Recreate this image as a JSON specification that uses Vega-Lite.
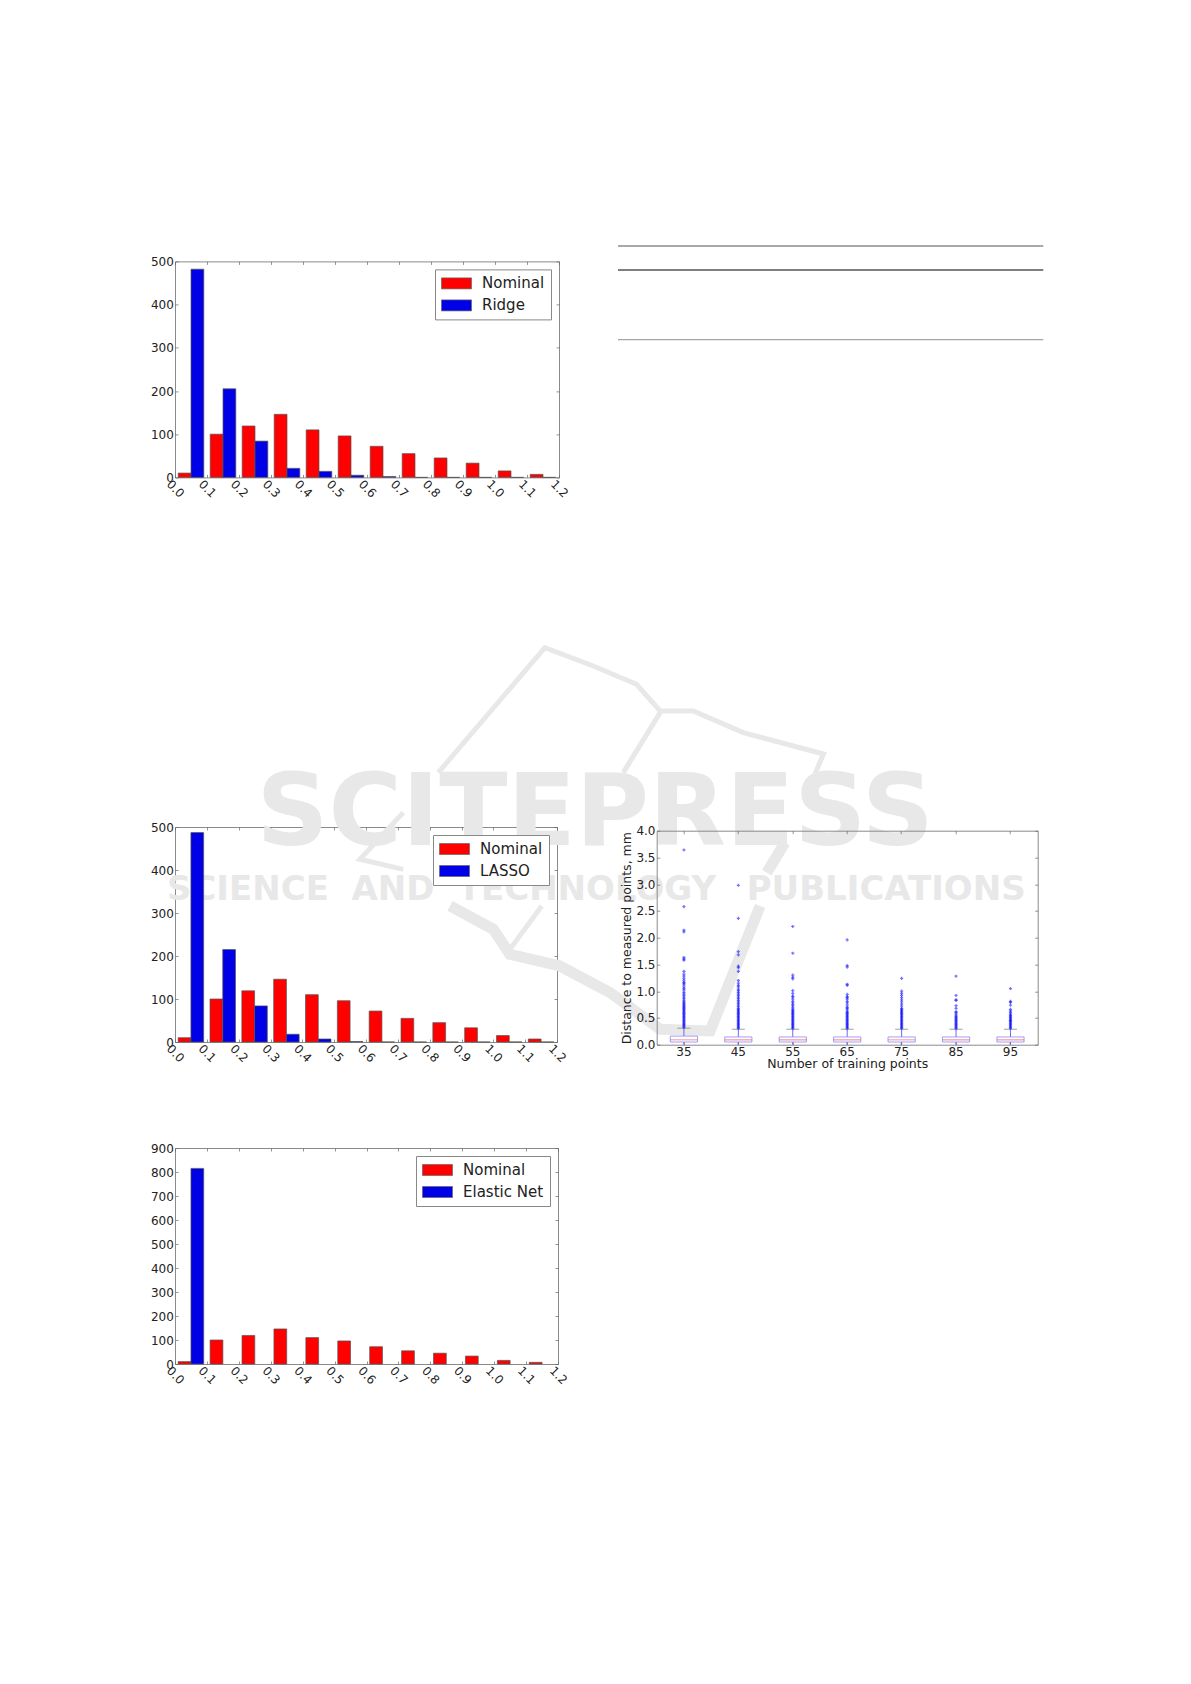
{"$schema":"https://vega.github.io/schema/vega-lite/v6.json",
"padding":{"left":149,"top":245,"right":0,"bottom":0},
"background":"white",
"config":{"view":{"stroke":"#8a8a8a","strokeWidth":1},"font":"DejaVu Sans",
"axis":{"domain":false,"grid":false,"tickSize":-3,"tickColor":"#666","tickWidth":0.7,"labelColor":"#222","labelFont":"DejaVu Sans","labelFontSize":12,"labelOverlap":false,"labelBound":false,"labelFlush":false,"title":null,"titleFont":"DejaVu Sans","titleFontWeight":"normal","titleColor":"#222"},
"legend":{"orient":"top-right","offset":8,"padding":6,"rowPadding":6,"labelOffset":25,"symbolSize":225,"symbolType":"M-1,-0.734H3V0.734H-1Z","symbolStrokeColor":"#666","symbolStrokeWidth":0.7,"labelFont":"DejaVu Sans","labelFontSize":15,"labelColor":"#222","strokeColor":"#888","fillColor":"white","title":null,"labelLimit":300}},
"datasets":{
"watermark":[{"t":"SCITEPRESS","x":1.32,"y":527,"k":"big"},{"t":"SCIENCE","x":0.229,"y":353,"k":"small"},{"t":"AND","x":0.685,"y":353,"k":"small"},{"t":"TECHNOLOGY","x":1.294,"y":353,"k":"small"},{"t":"PUBLICATIONS","x":2.234,"y":353,"k":"small"}],
"logoThin":[
{"part":"a","o":1,"x":0.827,"y":626.5},{"part":"a","o":2,"x":1.162,"y":917.2},{"part":"a","o":3,"x":1.314,"y":874.5},{"part":"a","o":4,"x":1.45,"y":831.9},{"part":"a","o":5,"x":1.524,"y":769.9},{"part":"a","o":6,"x":1.628,"y":769.9},{"part":"a","o":7,"x":1.785,"y":719.5},{"part":"a","o":8,"x":2.037,"y":669.8},{"part":"a","o":9,"x":2.01,"y":622.6},
{"part":"b","o":1,"x":1.524,"y":766},{"part":"b","o":2,"x":1.408,"y":626.5},
{"part":"c","o":1,"x":1.152,"y":316.4},{"part":"c","o":2,"x":1.052,"y":215.6},
{"part":"d","o":1,"x":0.717,"y":533.5},{"part":"d","o":2,"x":0.581,"y":425},{"part":"d","o":3,"x":0.717,"y":401.6}],
"logoThick":[
{"part":"e","o":1,"x":0.864,"y":316.4},{"part":"e","o":2,"x":1.0,"y":262.1},{"part":"e","o":3,"x":1.052,"y":204},{"part":"e","o":4,"x":1.209,"y":176.7},{"part":"e","o":5,"x":1.367,"y":114.9},{"part":"e","o":6,"x":1.524,"y":29.5},{"part":"e","o":7,"x":1.681,"y":25.6},{"part":"e","o":8,"x":1.838,"y":316.4},
{"part":"f","o":1,"x":1.916,"y":463.7},{"part":"f","o":2,"x":1.859,"y":394}],
"ridge":[
{"lo":0.01,"hi":0.05,"series":"Nominal","count":10},{"lo":0.11,"hi":0.15,"series":"Nominal","count":100},{"lo":0.21,"hi":0.25,"series":"Nominal","count":119},{"lo":0.31,"hi":0.35,"series":"Nominal","count":146},{"lo":0.41,"hi":0.45,"series":"Nominal","count":110},{"lo":0.51,"hi":0.55,"series":"Nominal","count":96},{"lo":0.61,"hi":0.65,"series":"Nominal","count":72},{"lo":0.71,"hi":0.75,"series":"Nominal","count":55},{"lo":0.81,"hi":0.85,"series":"Nominal","count":45},{"lo":0.91,"hi":0.95,"series":"Nominal","count":33},{"lo":1.01,"hi":1.05,"series":"Nominal","count":15},{"lo":1.11,"hi":1.15,"series":"Nominal","count":7},
{"lo":0.05,"hi":0.09,"series":"Ridge","count":482},{"lo":0.15,"hi":0.19,"series":"Ridge","count":205},{"lo":0.25,"hi":0.29,"series":"Ridge","count":84},{"lo":0.35,"hi":0.39,"series":"Ridge","count":21},{"lo":0.45,"hi":0.49,"series":"Ridge","count":14},{"lo":0.55,"hi":0.59,"series":"Ridge","count":5},{"lo":0.65,"hi":0.69,"series":"Ridge","count":2},{"lo":0.75,"hi":0.79,"series":"Ridge","count":0},{"lo":0.85,"hi":0.89,"series":"Ridge","count":0},{"lo":0.95,"hi":0.99,"series":"Ridge","count":0},{"lo":1.05,"hi":1.09,"series":"Ridge","count":0},{"lo":1.15,"hi":1.19,"series":"Ridge","count":0}],
"lasso":[
{"lo":0.01,"hi":0.05,"series":"Nominal","count":10},{"lo":0.11,"hi":0.15,"series":"Nominal","count":100},{"lo":0.21,"hi":0.25,"series":"Nominal","count":119},{"lo":0.31,"hi":0.35,"series":"Nominal","count":146},{"lo":0.41,"hi":0.45,"series":"Nominal","count":110},{"lo":0.51,"hi":0.55,"series":"Nominal","count":96},{"lo":0.61,"hi":0.65,"series":"Nominal","count":72},{"lo":0.71,"hi":0.75,"series":"Nominal","count":55},{"lo":0.81,"hi":0.85,"series":"Nominal","count":45},{"lo":0.91,"hi":0.95,"series":"Nominal","count":33},{"lo":1.01,"hi":1.05,"series":"Nominal","count":15},{"lo":1.11,"hi":1.15,"series":"Nominal","count":7},
{"lo":0.05,"hi":0.09,"series":"LASSO","count":487},{"lo":0.15,"hi":0.19,"series":"LASSO","count":215},{"lo":0.25,"hi":0.29,"series":"LASSO","count":84},{"lo":0.35,"hi":0.39,"series":"LASSO","count":18},{"lo":0.45,"hi":0.49,"series":"LASSO","count":7},{"lo":0.55,"hi":0.59,"series":"LASSO","count":1},{"lo":0.65,"hi":0.69,"series":"LASSO","count":0},{"lo":0.75,"hi":0.79,"series":"LASSO","count":0},{"lo":0.85,"hi":0.89,"series":"LASSO","count":0},{"lo":0.95,"hi":0.99,"series":"LASSO","count":0},{"lo":1.05,"hi":1.09,"series":"LASSO","count":0},{"lo":1.15,"hi":1.19,"series":"LASSO","count":0}],
"elastic":[
{"lo":0.01,"hi":0.05,"series":"Nominal","count":10},{"lo":0.11,"hi":0.15,"series":"Nominal","count":100},{"lo":0.21,"hi":0.25,"series":"Nominal","count":119},{"lo":0.31,"hi":0.35,"series":"Nominal","count":146},{"lo":0.41,"hi":0.45,"series":"Nominal","count":110},{"lo":0.51,"hi":0.55,"series":"Nominal","count":96},{"lo":0.61,"hi":0.65,"series":"Nominal","count":72},{"lo":0.71,"hi":0.75,"series":"Nominal","count":55},{"lo":0.81,"hi":0.85,"series":"Nominal","count":45},{"lo":0.91,"hi":0.95,"series":"Nominal","count":33},{"lo":1.01,"hi":1.05,"series":"Nominal","count":15},{"lo":1.11,"hi":1.15,"series":"Nominal","count":7},
{"lo":0.05,"hi":0.09,"series":"Elastic Net","count":815}],
"rules":[{"pos":0,"line":"top"},{"pos":24,"line":"header"},{"pos":93.7,"line":"bottom"}],
"box":[{"n":35,"q1":0.05,"med":0.09,"q3":0.16,"lo":0,"hi":0.31},{"n":45,"q1":0.05,"med":0.09,"q3":0.145,"lo":0,"hi":0.29},{"n":55,"q1":0.05,"med":0.09,"q3":0.145,"lo":0,"hi":0.29},{"n":65,"q1":0.05,"med":0.09,"q3":0.145,"lo":0,"hi":0.29},{"n":75,"q1":0.05,"med":0.09,"q3":0.145,"lo":0,"hi":0.29},{"n":85,"q1":0.05,"med":0.09,"q3":0.145,"lo":0,"hi":0.29},{"n":95,"q1":0.05,"med":0.09,"q3":0.145,"lo":0,"hi":0.29}],
"out":[
{"n":35,"v":3.64},{"n":35,"v":2.58},{"n":35,"v":2.14},{"n":35,"v":2.11},{"n":35,"v":1.63},{"n":35,"v":1.6},{"n":35,"v":1.58},{"n":35,"v":1.37},{"n":35,"v":1.32},{"n":35,"v":1.28},{"n":35,"v":1.24},{"n":35,"v":1.2},{"n":35,"v":1.16},{"n":35,"v":1.15},{"n":35,"v":1.12},{"n":35,"v":1.08},{"n":35,"v":1.05},{"n":35,"v":1.02},{"n":35,"v":0.98},{"n":35,"v":0.95},{"n":35,"v":0.92},{"n":35,"v":0.89},{"n":35,"v":0.86},{"n":35,"v":0.83},{"n":35,"v":0.8},{"n":35,"v":0.78},{"n":35,"v":0.76},{"n":35,"v":0.74},{"n":35,"v":0.72},{"n":35,"v":0.7},{"n":35,"v":0.68},{"n":35,"v":0.66},{"n":35,"v":0.64},{"n":35,"v":0.62},{"n":35,"v":0.6},{"n":35,"v":0.58},{"n":35,"v":0.56},{"n":35,"v":0.54},{"n":35,"v":0.52},{"n":35,"v":0.5},{"n":35,"v":0.48},{"n":35,"v":0.46},{"n":35,"v":0.44},{"n":35,"v":0.42},{"n":35,"v":0.4},{"n":35,"v":0.38},{"n":35,"v":0.36},{"n":35,"v":0.34},{"n":35,"v":0.32},
{"n":45,"v":2.98},{"n":45,"v":2.36},{"n":45,"v":1.74},{"n":45,"v":1.68},{"n":45,"v":1.47},{"n":45,"v":1.44},{"n":45,"v":1.37},{"n":45,"v":1.2},{"n":45,"v":1.15},{"n":45,"v":1.11},{"n":45,"v":1.08},{"n":45,"v":1.04},{"n":45,"v":1.01},{"n":45,"v":0.98},{"n":45,"v":0.95},{"n":45,"v":0.92},{"n":45,"v":0.89},{"n":45,"v":0.86},{"n":45,"v":0.83},{"n":45,"v":0.8},{"n":45,"v":0.77},{"n":45,"v":0.74},{"n":45,"v":0.71},{"n":45,"v":0.68},{"n":45,"v":0.66},{"n":45,"v":0.64},{"n":45,"v":0.62},{"n":45,"v":0.6},{"n":45,"v":0.58},{"n":45,"v":0.56},{"n":45,"v":0.54},{"n":45,"v":0.52},{"n":45,"v":0.5},{"n":45,"v":0.48},{"n":45,"v":0.46},{"n":45,"v":0.44},{"n":45,"v":0.42},{"n":45,"v":0.4},{"n":45,"v":0.38},{"n":45,"v":0.36},{"n":45,"v":0.34},{"n":45,"v":0.32},{"n":45,"v":0.3},
{"n":55,"v":2.21},{"n":55,"v":1.71},{"n":55,"v":1.3},{"n":55,"v":1.26},{"n":55,"v":1.23},{"n":55,"v":1.01},{"n":55,"v":0.96},{"n":55,"v":0.91},{"n":55,"v":0.89},{"n":55,"v":0.85},{"n":55,"v":0.81},{"n":55,"v":0.78},{"n":55,"v":0.75},{"n":55,"v":0.72},{"n":55,"v":0.69},{"n":55,"v":0.66},{"n":55,"v":0.64},{"n":55,"v":0.62},{"n":55,"v":0.6},{"n":55,"v":0.58},{"n":55,"v":0.56},{"n":55,"v":0.54},{"n":55,"v":0.52},{"n":55,"v":0.5},{"n":55,"v":0.48},{"n":55,"v":0.46},{"n":55,"v":0.44},{"n":55,"v":0.42},{"n":55,"v":0.4},{"n":55,"v":0.38},{"n":55,"v":0.36},{"n":55,"v":0.34},{"n":55,"v":0.32},{"n":55,"v":0.3},
{"n":65,"v":1.96},{"n":65,"v":1.48},{"n":65,"v":1.45},{"n":65,"v":1.13},{"n":65,"v":1.11},{"n":65,"v":0.94},{"n":65,"v":0.9},{"n":65,"v":0.88},{"n":65,"v":0.85},{"n":65,"v":0.81},{"n":65,"v":0.78},{"n":65,"v":0.74},{"n":65,"v":0.7},{"n":65,"v":0.68},{"n":65,"v":0.65},{"n":65,"v":0.62},{"n":65,"v":0.6},{"n":65,"v":0.58},{"n":65,"v":0.56},{"n":65,"v":0.54},{"n":65,"v":0.52},{"n":65,"v":0.5},{"n":65,"v":0.48},{"n":65,"v":0.46},{"n":65,"v":0.44},{"n":65,"v":0.42},{"n":65,"v":0.4},{"n":65,"v":0.38},{"n":65,"v":0.36},{"n":65,"v":0.34},{"n":65,"v":0.32},{"n":65,"v":0.3},
{"n":75,"v":1.24},{"n":75,"v":1.0},{"n":75,"v":0.96},{"n":75,"v":0.92},{"n":75,"v":0.88},{"n":75,"v":0.84},{"n":75,"v":0.8},{"n":75,"v":0.76},{"n":75,"v":0.72},{"n":75,"v":0.68},{"n":75,"v":0.66},{"n":75,"v":0.64},{"n":75,"v":0.62},{"n":75,"v":0.6},{"n":75,"v":0.58},{"n":75,"v":0.56},{"n":75,"v":0.54},{"n":75,"v":0.52},{"n":75,"v":0.5},{"n":75,"v":0.48},{"n":75,"v":0.46},{"n":75,"v":0.44},{"n":75,"v":0.42},{"n":75,"v":0.4},{"n":75,"v":0.38},{"n":75,"v":0.36},{"n":75,"v":0.34},{"n":75,"v":0.32},{"n":75,"v":0.3},
{"n":85,"v":1.28},{"n":85,"v":0.92},{"n":85,"v":0.84},{"n":85,"v":0.83},{"n":85,"v":0.73},{"n":85,"v":0.68},{"n":85,"v":0.62},{"n":85,"v":0.6},{"n":85,"v":0.57},{"n":85,"v":0.54},{"n":85,"v":0.52},{"n":85,"v":0.5},{"n":85,"v":0.48},{"n":85,"v":0.46},{"n":85,"v":0.44},{"n":85,"v":0.42},{"n":85,"v":0.4},{"n":85,"v":0.38},{"n":85,"v":0.36},{"n":85,"v":0.34},{"n":85,"v":0.32},{"n":85,"v":0.3},
{"n":95,"v":1.05},{"n":95,"v":0.81},{"n":95,"v":0.79},{"n":95,"v":0.74},{"n":95,"v":0.66},{"n":95,"v":0.63},{"n":95,"v":0.6},{"n":95,"v":0.57},{"n":95,"v":0.55},{"n":95,"v":0.53},{"n":95,"v":0.51},{"n":95,"v":0.49},{"n":95,"v":0.47},{"n":95,"v":0.45},{"n":95,"v":0.44},{"n":95,"v":0.42},{"n":95,"v":0.4},{"n":95,"v":0.38},{"n":95,"v":0.36},{"n":95,"v":0.34},{"n":95,"v":0.32},{"n":95,"v":0.3}]
},
"resolve":{"scale":{"color":"independent","size":"independent"},"legend":{"color":"independent","size":"independent"}},
"hconcat":[
{"resolve":{"scale":{"color":"independent","size":"independent"},"legend":{"color":"independent","size":"independent"}},"vconcat":[
 {"data":{"values":[]},"width":1,"height":1,"view":{"stroke":null},"mark":"rule","encoding":{}},
 {"resolve":{"scale":{"color":"independent","size":"independent"},"legend":{"color":"independent","size":"independent"}},"vconcat":[
  {"resolve":{"scale":{"color":"independent","size":"independent"},"legend":{"color":"independent","size":"independent"}},"vconcat":[
   {"width":384,"height":216,"data":{"name":"ridge"},"resolve":{"axis":{"x":"independent","y":"independent"}},"layer":[
    {"mark":{"type":"bar","stroke":"#555","strokeWidth":0.7},"encoding":{"x":{"field":"lo","type":"quantitative","scale":{"domain":[0,1.2],"nice":false},"axis":{"values":[0,0.1,0.2,0.3,0.4,0.5,0.6,0.7,0.8,0.9,1,1.1,1.2],"format":".1f","labelAngle":45,"labelAlign":"center","labelBaseline":"middle","labelPadding":14}},"x2":{"field":"hi"},"y":{"field":"count","type":"quantitative","stack":null,"scale":{"domain":[0,500],"nice":false},"axis":{"values":[0,100,200,300,400,500],"labelPadding":4.7}},"y2":{"datum":0},"color":{"field":"series","type":"nominal","scale":{"domain":["Nominal","Ridge"],"range":["#ff0000","#0000e6"]}}}},
    {"mark":{"type":"point","opacity":0},"encoding":{"x":{"field":"lo","type":"quantitative","scale":{"domain":[0,1.2],"nice":false},"axis":{"orient":"top","labels":false,"values":[0,0.1,0.2,0.3,0.4,0.5,0.6,0.7,0.8,0.9,1,1.1,1.2]}},"y":{"field":"count","type":"quantitative","scale":{"domain":[0,500],"nice":false},"axis":{"orient":"right","labels":false,"values":[0,100,200,300,400,500]}}}}
   ]},
   {"width":382,"height":215,"data":{"name":"lasso"},"resolve":{"axis":{"x":"independent","y":"independent"}},"layer":[
    {"data":{"name":"logoThin"},"mark":{"type":"line","color":"#e8e8e8","strokeWidth":5},"encoding":{"x":{"field":"x","type":"quantitative","scale":{"domain":[0,1.2],"nice":false},"axis":null},"y":{"field":"y","type":"quantitative","scale":{"domain":[0,500],"nice":false},"axis":null},"detail":{"field":"part"},"order":{"field":"o"}}},
    {"data":{"name":"logoThick"},"mark":{"type":"line","color":"#e8e8e8","strokeWidth":11},"encoding":{"x":{"field":"x","type":"quantitative","scale":{"domain":[0,1.2],"nice":false},"axis":null},"y":{"field":"y","type":"quantitative","scale":{"domain":[0,500],"nice":false},"axis":null},"detail":{"field":"part"},"order":{"field":"o"}}},
    {"data":{"name":"watermark"},"mark":{"type":"text","fontWeight":"bold","color":"#e8e8e8","baseline":"middle","align":"center"},"encoding":{"x":{"field":"x","type":"quantitative","scale":{"domain":[0,1.2],"nice":false},"axis":null},"y":{"field":"y","type":"quantitative","scale":{"domain":[0,500],"nice":false},"axis":null},"text":{"field":"t"},"size":{"field":"k","type":"nominal","scale":{"type":"ordinal","domain":["big","small"],"range":[100,34]},"legend":null}}},
    {"mark":{"type":"bar","stroke":"#555","strokeWidth":0.7},"encoding":{"x":{"field":"lo","type":"quantitative","scale":{"domain":[0,1.2],"nice":false},"axis":{"values":[0,0.1,0.2,0.3,0.4,0.5,0.6,0.7,0.8,0.9,1,1.1,1.2],"format":".1f","labelAngle":45,"labelAlign":"center","labelBaseline":"middle","labelPadding":14}},"x2":{"field":"hi"},"y":{"field":"count","type":"quantitative","stack":null,"scale":{"domain":[0,500],"nice":false},"axis":{"values":[0,100,200,300,400,500],"labelPadding":4.7}},"y2":{"datum":0},"color":{"field":"series","type":"nominal","scale":{"domain":["Nominal","LASSO"],"range":["#ff0000","#0000e6"]}}}},
    {"mark":{"type":"point","opacity":0},"encoding":{"x":{"field":"lo","type":"quantitative","scale":{"domain":[0,1.2],"nice":false},"axis":{"orient":"top","labels":false,"values":[0,0.1,0.2,0.3,0.4,0.5,0.6,0.7,0.8,0.9,1,1.1,1.2]}},"y":{"field":"count","type":"quantitative","scale":{"domain":[0,500],"nice":false},"axis":{"orient":"right","labels":false,"values":[0,100,200,300,400,500]}}}}
   ]}
  ],"spacing":349.6,"bounds":"flush"},
  {"width":383,"height":216,"data":{"name":"elastic"},"resolve":{"axis":{"x":"independent","y":"independent"}},"layer":[
    {"mark":{"type":"bar","stroke":"#555","strokeWidth":0.7},"encoding":{"x":{"field":"lo","type":"quantitative","scale":{"domain":[0,1.2],"nice":false},"axis":{"values":[0,0.1,0.2,0.3,0.4,0.5,0.6,0.7,0.8,0.9,1,1.1,1.2],"format":".1f","labelAngle":45,"labelAlign":"center","labelBaseline":"middle","labelPadding":14}},"x2":{"field":"hi"},"y":{"field":"count","type":"quantitative","stack":null,"scale":{"domain":[0,900],"nice":false},"axis":{"values":[0,100,200,300,400,500,600,700,800,900],"labelPadding":4.7}},"y2":{"datum":0},"color":{"field":"series","type":"nominal","scale":{"domain":["Nominal","Elastic Net"],"range":["#ff0000","#0000e6"]}}}},
    {"mark":{"type":"point","opacity":0},"encoding":{"x":{"field":"lo","type":"quantitative","scale":{"domain":[0,1.2],"nice":false},"axis":{"orient":"top","labels":false,"values":[0,0.1,0.2,0.3,0.4,0.5,0.6,0.7,0.8,0.9,1,1.1,1.2]}},"y":{"field":"count","type":"quantitative","scale":{"domain":[0,900],"nice":false},"axis":{"orient":"right","labels":false,"values":[0,100,200,300,400,500,600,700,800,900]}}}}
  ]}
 ],"spacing":886.6,"bounds":"flush"}
],"spacing":14.4,"bounds":"flush"},
{"resolve":{"scale":{"color":"independent"},"legend":{"color":"independent"}},"vconcat":[
 {"width":425.3,"height":93.7,"view":{"stroke":null},"data":{"name":"rules"},"mark":{"type":"rule","strokeWidth":1.2},"encoding":{"y":{"field":"pos","type":"quantitative","scale":{"domain":[93.7,0],"nice":false},"axis":null},"color":{"field":"line","type":"nominal","scale":{"domain":["top","header","bottom"],"range":["#555555","#000000","#a5a5a5"]},"legend":null}}},
 {"hconcat":[
  {"data":{"values":[]},"width":1,"height":1,"view":{"stroke":null},"mark":"rule","encoding":{}},
  {"width":381,"height":214,"resolve":{"axis":{"x":"independent","y":"independent"}},"layer":[
   {"data":{"name":"out"},"mark":{"type":"point","shape":"cross","filled":true,"size":10,"color":"#0000ff","opacity":0.55},"encoding":{"x":{"field":"n","type":"ordinal","scale":{"type":"band","paddingInner":0,"paddingOuter":0,"domain":[35,45,55,65,75,85,95]},"axis":{"labelAngle":0,"labelPadding":5,"title":"Number of training points","titleFontSize":12.5,"titlePadding":0}},"y":{"field":"v","type":"quantitative","scale":{"domain":[0,4],"nice":false},"axis":{"values":[0,0.5,1,1.5,2,2.5,3,3.5,4],"format":".1f","labelPadding":4.7,"title":"Distance to measured points, mm","titleFontSize":12.5,"titlePadding":2.5}}}},
   {"data":{"name":"box"},"mark":{"type":"rule","color":"#4444ff","strokeWidth":0.8},"encoding":{"x":{"field":"n","type":"ordinal","axis":null},"y":{"field":"q3","type":"quantitative","axis":null},"y2":{"field":"hi"}}},
   {"data":{"name":"box"},"mark":{"type":"rule","color":"#4444ff","strokeWidth":0.8},"encoding":{"x":{"field":"n","type":"ordinal","axis":null},"y":{"field":"lo","type":"quantitative","axis":null},"y2":{"field":"q1"}}},
   {"data":{"name":"box"},"mark":{"type":"tick","size":13,"thickness":0.8,"color":"#555555"},"encoding":{"x":{"field":"n","type":"ordinal","axis":null},"y":{"field":"hi","type":"quantitative","axis":null}}},
   {"data":{"name":"box"},"mark":{"type":"bar","width":{"band":0.5},"fill":"white","stroke":"#7777ff","strokeWidth":0.7},"encoding":{"x":{"field":"n","type":"ordinal","axis":null},"y":{"field":"q1","type":"quantitative","axis":null},"y2":{"field":"q3"}}},
   {"data":{"name":"box"},"mark":{"type":"tick","size":27,"thickness":0.9,"color":"#ff3030"},"encoding":{"x":{"field":"n","type":"ordinal","axis":null},"y":{"field":"med","type":"quantitative","axis":null}}},
   {"data":{"name":"box"},"mark":{"type":"point","opacity":0},"encoding":{"x":{"field":"n","type":"ordinal","axis":{"orient":"top","labels":false}},"y":{"field":"med","type":"quantitative","axis":{"orient":"right","labels":false,"values":[0,0.5,1,1.5,2,2.5,3,3.5,4]}}}}
  ]}
 ],"spacing":37.7,"bounds":"flush"}
],"spacing":490.7,"bounds":"flush"}
],"spacing":443,"bounds":"flush"}
